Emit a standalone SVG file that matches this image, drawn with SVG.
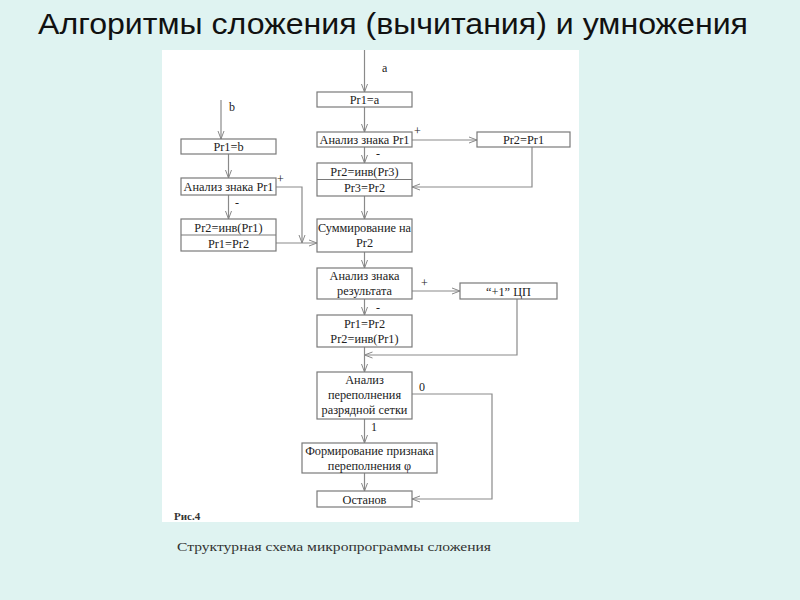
<svg xmlns="http://www.w3.org/2000/svg" width="800" height="600" viewBox="0 0 800 600">
<defs>
<marker id="ah" markerWidth="10" markerHeight="8" refX="8" refY="4" orient="auto" markerUnits="userSpaceOnUse">
<path d="M0,1 L8,4 L0,7" fill="none" stroke="#888" stroke-width="1"/>
</marker>
<style>
.box{fill:#fff;stroke:#7a7a7a;stroke-width:1.2}
.ln{fill:none;stroke:#8a8a8a;stroke-width:1.2}
.ar{fill:none;stroke:#8a8a8a;stroke-width:1.2;marker-end:url(#ah)}
.t{font-family:"Liberation Serif","Times New Roman",serif;font-size:12.3px;fill:#222;text-anchor:middle}
.lb{font-family:"Liberation Serif","Times New Roman",serif;font-size:12px;fill:#222}
</style>
</defs>
<rect x="0" y="0" width="800" height="600" fill="#dff3f1"/>
<text x="38" y="34" font-family="'Liberation Sans',Arial,sans-serif" font-size="29" fill="#111" textLength="710" lengthAdjust="spacingAndGlyphs">Алгоритмы сложения (вычитания) и умножения</text>
<rect x="162" y="50" width="417" height="472" fill="#fff"/>

<g id="connectors">
<line class="ar" x1="364.5" y1="50" x2="364.5" y2="92"/>
<line class="ar" x1="364.5" y1="107" x2="364.5" y2="132"/>
<line class="ar" x1="412" y1="140" x2="477" y2="140"/>
<polyline class="ar" points="532,147 532,187 412,187"/>
<line class="ar" x1="364.5" y1="147" x2="364.5" y2="163"/>
<line class="ar" x1="364.5" y1="196" x2="364.5" y2="219"/>
<line class="ar" x1="221" y1="100" x2="221" y2="139"/>
<line class="ar" x1="228.5" y1="154" x2="228.5" y2="178"/>
<line class="ar" x1="228.5" y1="195" x2="228.5" y2="219"/>
<polyline class="ar" points="276,187 302,187 302,243"/>
<line class="ar" x1="276" y1="243" x2="317" y2="243"/>
<line class="ar" x1="364.5" y1="252" x2="364.5" y2="268"/>
<line class="ar" x1="412" y1="291" x2="460" y2="291"/>
<line class="ar" x1="364.5" y1="299" x2="364.5" y2="315"/>
<polyline class="ar" points="517,299 517,355 364.5,355"/>
<line class="ar" x1="364.5" y1="347" x2="364.5" y2="372"/>
<polyline class="ar" points="412,394 492,394 492,499 412,499"/>
<line class="ar" x1="364.5" y1="419" x2="364.5" y2="443"/>
<line class="ar" x1="364.5" y1="473" x2="364.5" y2="491"/>
<text class="lb" x="382" y="72">a</text>
<text class="lb" x="229" y="111">b</text>
<text class="lb" x="414" y="135">+</text>
<text class="lb" x="376" y="158">-</text>
<text class="lb" x="277" y="183">+</text>
<text class="lb" x="235" y="207">-</text>
<text class="lb" x="421" y="287">+</text>
<text class="lb" x="376" y="312">-</text>
<text class="lb" x="419" y="391">0</text>
<text class="lb" x="371" y="431">1</text>
</g>

<g id="n_pr1a"><rect class="box" x="317" y="92" width="95" height="15"/><text class="t" x="364.5" y="104">Pr1=a</text></g>
<g id="n_sign_a"><rect class="box" x="317" y="132" width="95" height="15"/><text class="t" x="364.5" y="144">Анализ знака Pr1</text></g>
<g id="n_pr2pr1"><rect class="box" x="477" y="132" width="93" height="15"/><text class="t" x="523.5" y="144">Pr2=Pr1</text></g>
<g id="n_inv3"><rect class="box" x="317" y="163" width="95" height="33"/><line class="box" x1="317" y1="179.5" x2="412" y2="179.5"/><text class="t" x="364.5" y="175.5">Pr2=инв(Pr3)</text><text class="t" x="364.5" y="192">Pr3=Pr2</text></g>
<g id="n_pr1b"><rect class="box" x="181" y="139" width="95" height="15"/><text class="t" x="228.5" y="151">Pr1=b</text></g>
<g id="n_sign_b"><rect class="box" x="181" y="178" width="95" height="17"/><text class="t" x="228.5" y="191">Анализ знака Pr1</text></g>
<g id="n_inv1"><rect class="box" x="181" y="219" width="95" height="32"/><line class="box" x1="181" y1="235" x2="276" y2="235"/><text class="t" x="228.5" y="231.5">Pr2=инв(Pr1)</text><text class="t" x="228.5" y="247.5">Pr1=Pr2</text></g>
<g id="n_sum"><rect class="box" x="317" y="219" width="95" height="33"/><text class="t" x="364.5" y="232">Суммирование на</text><text class="t" x="364.5" y="247">Pr2</text></g>
<g id="n_sign_res"><rect class="box" x="317" y="268" width="95" height="31"/><text class="t" x="364.5" y="280">Анализ знака</text><text class="t" x="364.5" y="294.5">результата</text></g>
<g id="n_plus1"><rect class="box" x="460" y="283" width="97" height="16"/><text class="t" x="508.5" y="295.5">“+1” ЦП</text></g>
<g id="n_swap"><rect class="box" x="317" y="315" width="95" height="32"/><text class="t" x="364.5" y="328">Pr1=Pr2</text><text class="t" x="364.5" y="342.5">Pr2=инв(Pr1)</text></g>
<g id="n_ovf"><rect class="box" x="317" y="372" width="95" height="47"/><text class="t" x="364.5" y="383.5">Анализ</text><text class="t" x="364.5" y="398.5">переполнения</text><text class="t" x="364.5" y="413.5">разрядной сетки</text></g>
<g id="n_form"><rect class="box" x="302" y="443" width="135" height="30"/><text class="t" x="369.5" y="455">Формирование признака</text><text class="t" x="369.5" y="469.5">переполнения φ</text></g>
<g id="n_stop"><rect class="box" x="317" y="491" width="95" height="16"/><text class="t" x="364.5" y="503.5">Останов</text></g>

<text x="174" y="520" font-family="'Liberation Serif','Times New Roman',serif" font-size="11" font-weight="bold" fill="#333">Рис.4</text>
<text x="177" y="551" font-family="'Liberation Serif','Times New Roman',serif" font-size="13" fill="#333" textLength="314" lengthAdjust="spacingAndGlyphs">Структурная схема микропрограммы сложения</text>
</svg>
